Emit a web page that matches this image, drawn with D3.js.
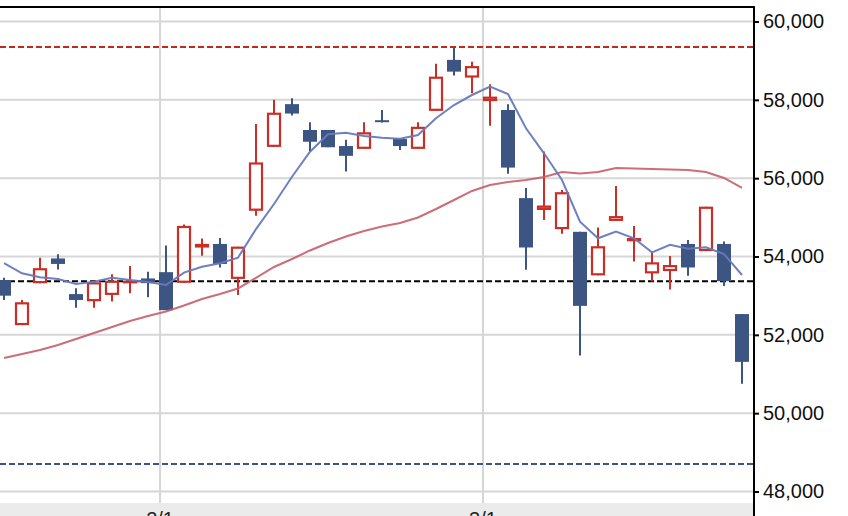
<!DOCTYPE html>
<html>
<head>
<meta charset="utf-8">
<script src="https://cdn.jsdelivr.net/npm/d3@7"></script>
<style>
html,body{margin:0;padding:0;background:#fff;}
svg{display:block;}
</style>
</head>
<body>
<svg id="chart" width="848" height="516"></svg>
<script>
// ---- data ----
const openV  = [53400,52250,53320,53950,53040,52860,53020,53320,53440,53600,53330,54230,54320,53430,55170,56800,57890,57230,57230,56820,56750,57480,57000,56750,57720,59020,58570,57970,57740,55490,55190,54700,54630,53520,54910,54390,53570,53630,54320,54140,54320,52530];
const highV  = [53460,52890,53970,54060,53190,53370,53550,53760,53610,54280,54820,54460,54470,54250,57380,58000,58040,57430,57230,56980,57430,57740,57000,57430,58920,59350,58970,58400,57890,55750,56680,55700,54630,54740,55800,54780,54120,54010,54420,55270,54380,52530];
const lowV   = [52890,52250,53320,53670,52690,52690,52850,53060,52960,52630,53330,54020,53720,53020,55040,56800,57600,56680,56790,56170,56750,57420,56720,56750,57720,58620,58170,57340,56110,53660,54930,54580,51470,53520,54910,53870,53360,53160,53510,54140,53250,50750];
const closeV = [53000,52830,53700,53810,52890,53340,53380,53380,53320,52630,54780,54320,53810,54250,56400,57670,57650,56930,56790,56570,57170,57440,56820,57310,58590,58720,58860,58080,56270,54230,55300,55640,52740,54260,55030,54470,53850,53780,53720,55270,53370,51310];
const maShort = [53830,53572,53469,53426,53298,53357,53460,53400,53350,53273,53587,53740,53827,53970,54700,55340,56036,56676,57121,57162,57077,57034,57008,57102,57529,57868,58123,58336,58149,57273,56635,55953,54889,54465,54634,54465,54105,54299,54198,54235,54062,53528];
const maLong  = [51409,51511,51614,51741,51894,52047,52200,52353,52481,52596,52749,52915,53043,53184,53452,53732,53936,54154,54345,54511,54652,54766,54856,54996,55213,55443,55673,55826,55902,55953,56030,56158,56120,56158,56260,56247,56234,56222,56209,56158,56005,55749];
const yTicks = [48000,50000,52000,54000,56000,58000,60000];
const xTickPos = [8.67, 26.61];
const xTickLabels = ["2/1","3/1"];
const refHigh = 59350;   // red dashed
const refPrev = 53370;   // black dashed
const refLow  = 48700;   // blue dashed

// ---- layout ----
const svg = d3.select("#chart");
const plotL = 0, plotR = 754, plotT = 7, plotB = 503;
const n = closeV.length;
const x = d3.scaleLinear().domain([0, n - 1]).range([4, 742]);
const y = d3.scaleLinear().domain([48000, 60000]).range([491.5, 21.5]);

const RED = "#cc2e27", BLUE = "#3c5582";

svg.append("defs").append("clipPath").attr("id","clip")
  .append("rect").attr("x",plotL).attr("y",plotT).attr("width",plotR-plotL).attr("height",plotB-plotT);

// bottom band
svg.append("rect").attr("x",0).attr("y",plotB).attr("width",plotR).attr("height",516-plotB).attr("fill","#ebebeb");

const g = svg.append("g").attr("clip-path","url(#clip)");

// grid
g.selectAll(".hg").data(yTicks).enter().append("line")
  .attr("x1",plotL).attr("x2",plotR).attr("y1",d=>y(d)).attr("y2",d=>y(d))
  .attr("stroke","#d6d6d6").attr("stroke-width",2);
g.selectAll(".vg").data(xTickPos).enter().append("line")
  .attr("x1",d=>x(d)).attr("x2",d=>x(d)).attr("y1",plotT).attr("y2",plotB)
  .attr("stroke","#d6d6d6").attr("stroke-width",2);

// reference dashed lines
[[refHigh,"#c3281f"],[refPrev,"#000"],[refLow,"#3c5582"]].forEach(([v,c])=>{
  g.append("line").attr("x1",plotL).attr("x2",plotR).attr("y1",y(v)).attr("y2",y(v))
   .attr("stroke",c).attr("stroke-width",2).attr("stroke-dasharray","6,3");
});

// candles
const idx = d3.range(n);
const cg = g.append("g");
idx.forEach(i=>{
  const up = closeV[i] >= openV[i];
  const col = up ? RED : BLUE;
  const cx = x(i);
  cg.append("line").attr("x1",cx).attr("x2",cx)
    .attr("y1",y(highV[i])).attr("y2",y(lowV[i]))
    .attr("stroke",col).attr("stroke-width",2);
  const top = y(Math.max(openV[i],closeV[i]));
  const bot = y(Math.min(openV[i],closeV[i]));
  if (up) {
    cg.append("rect").attr("x",cx-6).attr("width",12)
      .attr("y",top+1).attr("height",Math.max(0.5,bot-top-2))
      .attr("fill","#fff").attr("stroke",col).attr("stroke-width",2.2);
  } else {
    cg.append("rect").attr("x",cx-7).attr("width",14)
      .attr("y",top).attr("height",Math.max(2,bot-top))
      .attr("fill",col);
  }
});

// moving averages
const line = d3.line().x((d,i)=>x(i)).y(d=>y(d));
g.append("path").datum(maLong).attr("d",line).attr("fill","none")
  .attr("stroke","#c65d68").attr("stroke-width",2).attr("stroke-opacity",0.9);
g.append("path").datum(maShort).attr("d",line).attr("fill","none")
  .attr("stroke","#6679bd").attr("stroke-width",2).attr("stroke-opacity",0.95);

// top border
svg.append("line").attr("x1",0).attr("x2",plotR+1).attr("y1",plotT).attr("y2",plotT)
  .attr("stroke","#000").attr("stroke-width",2);

// right axis
const axis = d3.axisRight(y).tickValues(yTicks).tickFormat(d3.format(",")).tickSize(5).tickPadding(4);
const ax = svg.append("g").attr("transform",`translate(${plotR},0)`).call(axis);
ax.select(".domain").remove();
ax.selectAll(".tick line").attr("stroke","#000").attr("stroke-width",2);
ax.selectAll(".tick text").attr("font-family","'Liberation Sans', Arial, sans-serif")
  .attr("font-size",20).attr("fill","#111");
svg.append("line").attr("x1",plotR).attr("x2",plotR).attr("y1",plotT-1).attr("y2",516)
  .attr("stroke","#000").attr("stroke-width",2);

// bottom (cut-off) x labels
svg.selectAll(".xl").data(xTickPos).enter().append("text")
  .attr("x",d=>x(d)).attr("y",526).attr("text-anchor","middle")
  .attr("font-family","'Liberation Sans', Arial, sans-serif").attr("font-size",20).attr("fill","#222")
  .text((d,i)=>xTickLabels[i]);
</script>
</body>
</html>
